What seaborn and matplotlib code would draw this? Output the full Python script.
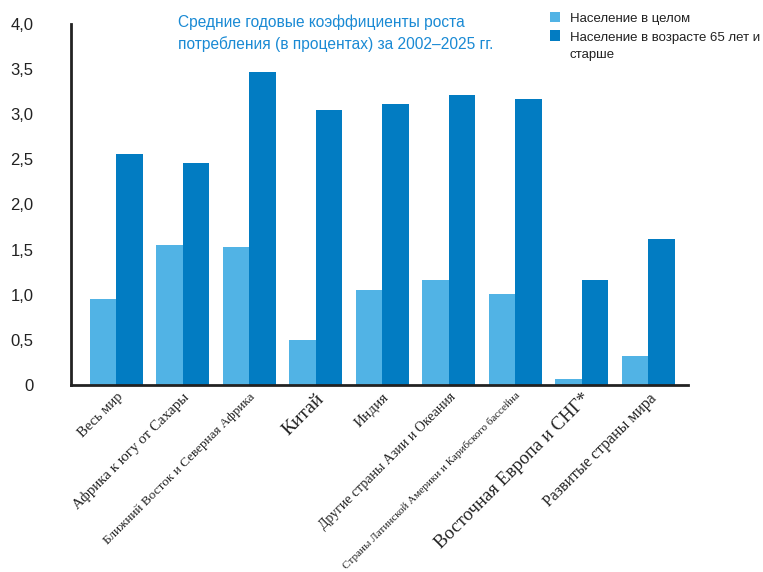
import matplotlib
matplotlib.use("Agg")
import matplotlib.pyplot as plt
import seaborn as sns
import pandas as pd
from matplotlib.patches import Rectangle

categories = [
    "Весь мир",
    "Африка к югу от Сахары",
    "Ближний Восток и Северная Африка",
    "Китай",
    "Индия",
    "Другие страны Азии и Океания",
    "Страны Латинской Америки и Карибского бассейна",
    "Восточная Европа и СНГ*",
    "Развитые страны мира",
]
total_pop = [0.95, 1.55, 1.53, 0.50, 1.05, 1.16, 1.01, 0.07, 0.32]
pop_65 = [2.56, 2.46, 3.47, 3.05, 3.11, 3.21, 3.17, 1.16, 1.62]
series = ["Население в целом", "Население в возрасте 65 лет и\nстарше"]
yticks = [0, 0.5, 1.0, 1.5, 2.0, 2.5, 3.0, 3.5, 4.0]
ytick_labels = ["0", "0,5", "1,0", "1,5", "2,0", "2,5", "3,0", "3,5", "4,0"]
title = "Средние годовые коэффициенты роста\nпотребления (в процентах) за 2002–2025 гг."

df = pd.DataFrame({
    "cat": categories * 2,
    "series": [series[0]] * len(categories) + [series[1]] * len(categories),
    "value": total_pop + pop_65,
})

sns.set_style("white")
plt.rcParams["font.family"] = ["Liberation Sans", "DejaVu Sans"]

colors = ["#51B3E5", "#027CC2"]
W, H = 763, 572
fig = plt.figure(figsize=(W / 100, H / 100), dpi=100)
ax = fig.add_axes([0.093, 0.327, 0.809, 0.631])
sns.barplot(data=df, x="cat", y="value", hue="series", palette=colors,
            width=0.8, saturation=1, ax=ax, legend=False, edgecolor="none")

ax.set_xlim(-0.68, 8.6)
ax.set_ylim(0, 4.0)
ax.set_yticks(yticks)
ax.set_yticklabels(ytick_labels, fontsize=12, color="#222222")
ax.set_xlabel("")
ax.set_ylabel("")
for s in ["top", "right"]:
    ax.spines[s].set_visible(False)
for s in ["left", "bottom"]:
    ax.spines[s].set_linewidth(2)
    ax.spines[s].set_color("#222222")
ax.tick_params(axis="y", direction="out", length=5, width=2, color="#222222", pad=22)
ax.tick_params(axis="x", length=0, pad=4)

label_sizes = [10.5, 10.8, 9.5, 14, 11, 10, 8, 13.5, 11.5]
ax.set_xticks(range(len(categories)))
ax.set_xticklabels(categories)
for lab, fs in zip(ax.get_xticklabels(), label_sizes):
    lab.set_rotation(45)
    lab.set_rotation_mode("anchor")
    lab.set_ha("right")
    lab.set_va("top")
    lab.set_fontsize(fs)
    lab.set_family(["Liberation Serif", "DejaVu Serif"])
    lab.set_color("#222222")

fig.text(178 / W, 1 - 14 / H, title, fontsize=11.2, color="#1A8AD4",
         ha="left", va="top", linespacing=1.55)

# legend
sq = 10
for i, (c, lab) in enumerate(zip(colors, series)):
    y_top = 12 + i * 18.5
    fig.patches.append(Rectangle((550 / W, 1 - (y_top + sq) / H), sq / W, sq / H,
                                 transform=fig.transFigure, facecolor=c,
                                 edgecolor="none"))
    fig.text(570 / W, 1 - (y_top + 1) / H, lab, fontsize=9.5, color="#222222",
             ha="left", va="top", linespacing=1.63)

fig.savefig("out.png", dpi=100)
